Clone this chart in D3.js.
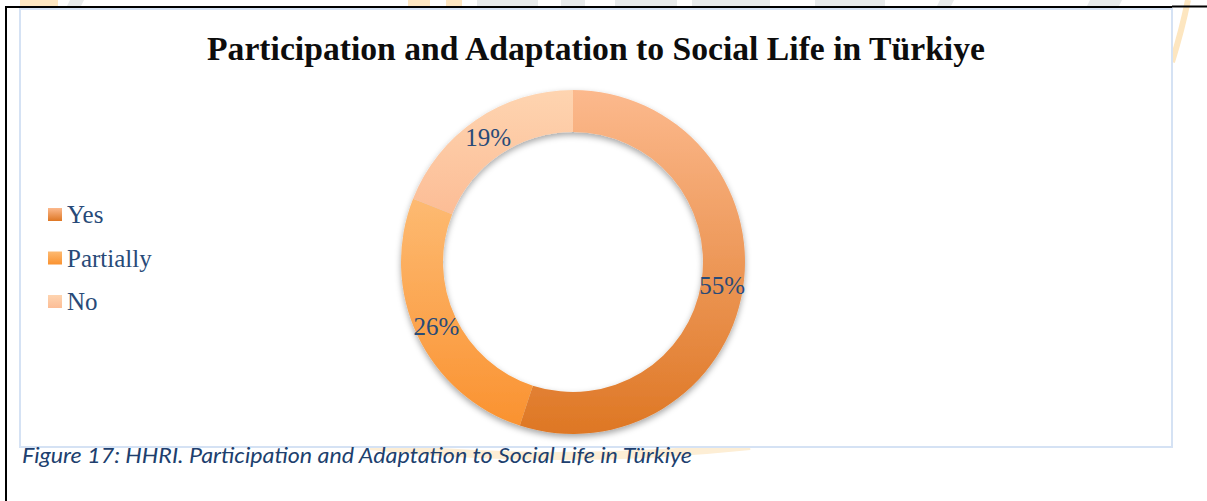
<!DOCTYPE html>
<html>
<head>
<meta charset="utf-8">
<script src="https://cdn.jsdelivr.net/npm/d3@7"></script>
<style>
  html, body { margin: 0; padding: 0; background: #ffffff; }
  svg { display: block; }
</style>
</head>
<body>
<script>
// Survey answers and their shares (percent)
const categories = ["Yes", "Partially", "No"];
const values = [55, 26, 19];

const titleText = "Participation and Adaptation to Social Life in Türkiye";
const captionText = "Figure 17: HHRI. Participation and Adaptation to Social Life in Türkiye";

// Vertical gradient stops (top, bottom) for each slice
const sliceTop = ["#fcb98d", "#fdba72", "#fed4b0"];
const sliceBottom = ["#de7724", "#fa9230", "#fcbd96"];

const W = 1207, H = 501;
const svg = d3.select("body").append("svg").attr("width", W).attr("height", H);
const defs = svg.append("defs");

// Faint page watermark pieces showing around the chart frame
const wm = svg.append("g").attr("class", "watermark");
const greyBlocks = [[477, 538], [561, 585], [615, 677], [692, 770], [815, 885]];
greyBlocks.forEach(b => wm.append("rect").attr("x", b[0]).attr("y", 0)
  .attr("width", b[1] - b[0]).attr("height", 8).attr("fill", "#e8ebec"));
[[408, 430], [446, 462], [20, 58]].forEach(b => wm.append("rect").attr("x", b[0]).attr("y", 0)
  .attr("width", b[1] - b[0]).attr("height", 8).attr("fill", "#fde6c2"));
[[70, 84], [940, 954], [1090, 1122]].forEach(b => wm.append("polygon")
  .attr("points", `${b[0]},0 ${b[1]},0 ${b[1] - 4},8 ${b[0] - 4},8`).attr("fill", "#e8ebec"));
wm.append("path").attr("d", "M1188,0 Q1182,30 1172,62").attr("fill", "none")
  .attr("stroke", "#fde6c0").attr("stroke-width", 6);
wm.append("path").attr("d", "M370,446 Q560,466 750,446").attr("fill", "none")
  .attr("stroke", "#fdeed5").attr("stroke-width", 8);

// Page rules
svg.append("line").attr("x1", 5).attr("x2", 1172).attr("y1", 7).attr("y2", 7)
  .attr("stroke", "#000").attr("stroke-width", 2);
svg.append("line").attr("x1", 1172).attr("x2", W).attr("y1", 6.5).attr("y2", 6.5)
  .attr("stroke", "#000").attr("stroke-width", 2);
svg.append("line").attr("x1", 6).attr("x2", 6).attr("y1", 6).attr("y2", H)
  .attr("stroke", "#000").attr("stroke-width", 2);

// Chart frame
svg.append("rect").attr("x", 20).attr("y", 9).attr("width", 1152).attr("height", 438)
  .attr("fill", "#ffffff").attr("stroke", "#d5e2f4").attr("stroke-width", 2);

// Fit a text element to a target width by adjusting its font size
function fitWidth(sel, target) {
  const fs = parseFloat(sel.attr("font-size"));
  const w = sel.node().getComputedTextLength();
  sel.attr("font-size", (fs * target / w).toFixed(2));
}

// Title
const title = svg.append("text")
  .attr("x", 596).attr("y", 60).attr("text-anchor", "middle")
  .attr("font-family", "'Liberation Serif', 'DejaVu Serif', serif")
  .attr("font-weight", "bold").attr("font-size", 30).attr("fill", "#0d0d0d")
  .text(titleText);
fitWidth(title, 778);

// Gradients
categories.forEach((c, i) => {
  const g = defs.append("linearGradient").attr("id", "grad" + i)
    .attr("x1", 0).attr("y1", 0).attr("x2", 0).attr("y2", 1);
  g.append("stop").attr("offset", "0%").attr("stop-color", sliceTop[i]);
  g.append("stop").attr("offset", "100%").attr("stop-color", sliceBottom[i]);
});

const shadow = defs.append("filter").attr("id", "ringShadow")
  .attr("x", "-10%").attr("y", "-10%").attr("width", "120%").attr("height", "125%");
shadow.append("feDropShadow").attr("dx", 0).attr("dy", 3).attr("stdDeviation", 3)
  .attr("flood-color", "#000").attr("flood-opacity", 0.35);

// Donut
const cx = 573, cy = 262, rOuter = 172, rInner = 130;
const pie = d3.pie().sort(null).value(d => d);
const arcs = pie(values);
const arc = d3.arc().innerRadius(rInner).outerRadius(rOuter);

const ring = svg.append("g").attr("transform", `translate(${cx},${cy})`);
ring.append("g").attr("filter", "url(#ringShadow)")
  .selectAll("path").data(arcs).join("path")
  .attr("d", arc)
  .attr("fill", (d, i) => `url(#grad${i})`);

const fmt = d => d.value + "%";
ring.selectAll("text.lbl").data(arcs).join("text")
  .attr("class", "lbl")
  .attr("transform", d => `translate(${arc.centroid(d)})`)
  .attr("text-anchor", "middle").attr("dy", "0.35em")
  .attr("font-family", "'Liberation Serif', 'DejaVu Serif', serif")
  .attr("font-size", 25).attr("fill", "#284a78")
  .text(fmt);

// Legend
const legend = svg.append("g").attr("transform", "translate(48,208)");
const rows = legend.selectAll("g").data(categories).join("g")
  .attr("transform", (d, i) => `translate(0,${i * 43.5})`);
rows.append("rect").attr("width", 14).attr("height", 13)
  .attr("fill", (d, i) => `url(#grad${i})`);
rows.append("text").attr("x", 19).attr("y", 15)
  .attr("font-family", "'Liberation Serif', 'DejaVu Serif', serif")
  .attr("font-size", 25).attr("fill", "#284a78")
  .text(d => d);

// Caption
svg.append("text")
  .attr("x", 22).attr("y", 463)
  .attr("font-family", "Lato, 'Open Sans', sans-serif")
  .attr("font-style", "italic").attr("font-size", 21).attr("fill", "#203f6e")
  .attr("textLength", 670).attr("lengthAdjust", "spacingAndGlyphs")
  .text(captionText);
</script>
</body>
</html>
